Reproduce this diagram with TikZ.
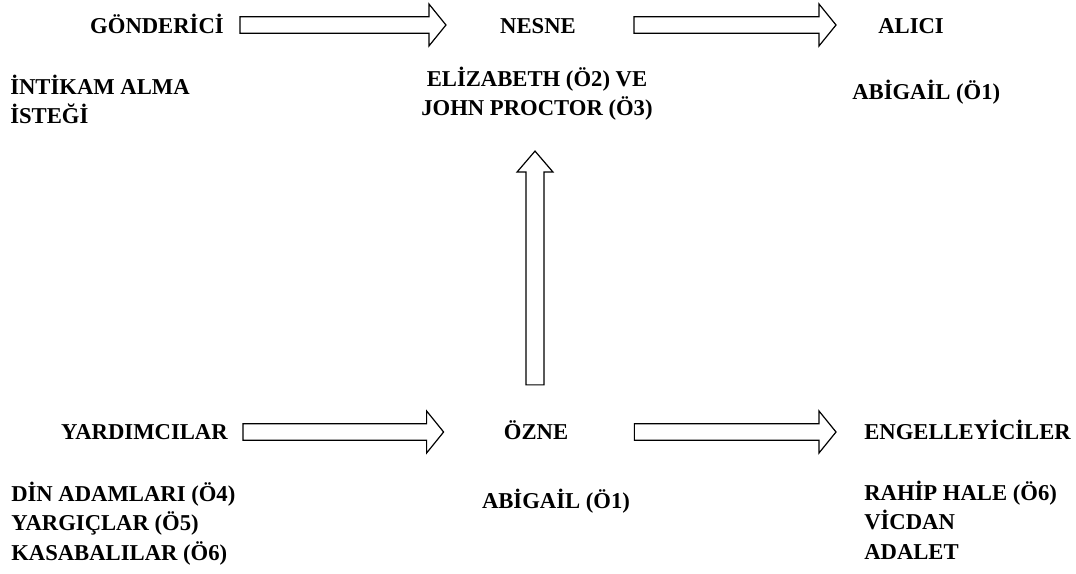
\documentclass[tikz,border=0pt]{standalone}
\usepackage{fontspec}
\setmainfont{Liberation Serif}
\usepackage{tikz}
\usetikzlibrary{positioning,calc}

\begin{document}
\begin{tikzpicture}[
    x=0.75pt, y=-0.75pt,
    lbl/.style={font=\fontsize{17}{22}\selectfont\bfseries, inner sep=0pt},
    sublbl/.style={lbl, align=left},
    blockarrow/.style n args={3}{draw, line width=0.9pt, fill=white,
        to path={($(\tikztostart)!#1!90:(\tikztotarget)$)
          -- ($($(\tikztotarget)!#3!(\tikztostart)$)!#1!90:(\tikztotarget)$)
          -- ($($(\tikztotarget)!#3!(\tikztostart)$)!#2!90:(\tikztotarget)$)
          -- (\tikztotarget)
          -- ($($(\tikztotarget)!#3!(\tikztostart)$)!#2!-90:(\tikztotarget)$)
          -- ($($(\tikztotarget)!#3!(\tikztostart)$)!#1!-90:(\tikztotarget)$)
          -- ($(\tikztostart)!#1!-90:(\tikztotarget)$) -- cycle}},
    harrow/.style={blockarrow={6.2pt}{15.75pt}{12.75pt}},
    varrow/.style={blockarrow={6.75pt}{13.5pt}{15.75pt}},
]
\useasboundingbox (0,0) rectangle (1076,574);

% top row
\node[lbl, anchor=base east] (sender) at (224,34) {GÖNDERİCİ};
\node[lbl, anchor=base] (object) at (538,34) {NESNE};
\node[lbl, anchor=base west] (receiver) at (878,34) {ALICI};

% (base of a multi-line node = its last line)
\node[sublbl, anchor=base west] (revenge) at (10,124) {İNTİKAM ALMA\\İSTEĞİ};
\node[lbl, align=center, anchor=base] (couple) at (537,116)
    {ELİZABETH (Ö2) VE\\JOHN PROCTOR (Ö3)};
\node[lbl, anchor=base west] (abigailtop) at (852,100) {ABİGAİL (Ö1)};

% bottom row
\node[lbl, anchor=base east] (helpers) at (228,440) {YARDIMCILAR};
\node[lbl, anchor=base] (subject) at (536,440) {ÖZNE};
\node[lbl, anchor=base west] (opponents) at (864,440) {ENGELLEYİCİLER};

\node[sublbl, anchor=base west] (clergy) at (11,560)
    {DİN ADAMLARI (Ö4)\\YARGIÇLAR (Ö5)\\KASABALILAR (Ö6)};
\node[lbl, anchor=base] (abigailbot) at (556,508) {ABİGAİL (Ö1)};
\node[sublbl, anchor=base west] (hale) at (864,559)
    {RAHİP HALE (Ö6)\\VİCDAN\\ADALET};

% block arrows
\draw[harrow] ($(sender.base east)+(16,-9)$) to ($(object.base west)+(-54,-9)$);
\draw[harrow] ($(object.base east)+(58,-9)$) to ($(receiver.base west)+(-42,-9)$);
\draw[varrow] ($(subject.north)+(-1,-36)$) to ($(couple.south)+(-2,30)$);
\draw[harrow] ($(helpers.base east)+(15,-8)$) to ($(subject.base west)+(-60,-8)$);
\draw[harrow] ($(subject.base east)+(66,-8)$) to ($(opponents.base west)+(-28,-8)$);

\end{tikzpicture}
\end{document}
